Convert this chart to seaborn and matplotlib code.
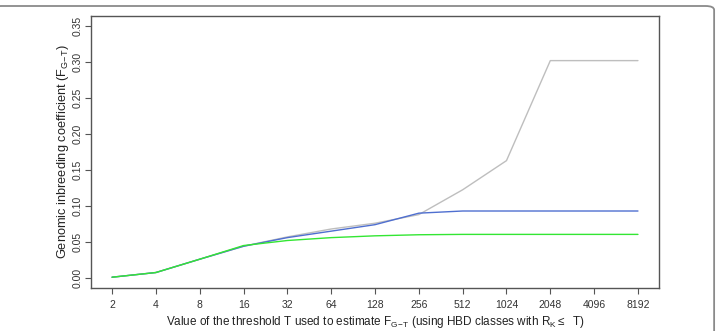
import numpy as np
import pandas as pd
import matplotlib
matplotlib.use("Agg")
import matplotlib.pyplot as plt
import seaborn as sns
from matplotlib.patches import FancyBboxPatch

thresholds = [2, 4, 8, 16, 32, 64, 128, 256, 512, 1024, 2048, 4096, 8192]
tick_labels = [str(t) for t in thresholds]
gray_series = [0.001, 0.0075, 0.026, 0.044, 0.057, 0.068, 0.076, 0.088, 0.1225, 0.163, 0.302, 0.302, 0.302]
blue_series = [0.001, 0.0075, 0.026, 0.044, 0.056, 0.065, 0.074, 0.090, 0.093, 0.093, 0.093, 0.093, 0.093]
green_series = [0.001, 0.0075, 0.026, 0.045, 0.052, 0.056, 0.0585, 0.060, 0.0605, 0.0605, 0.0605, 0.0605, 0.0605]
series_names = ["all", "blue", "green"]
colors = ["#BEBEBE", "#4F6FD0", "#33E633"]

sns.set_style("white")
plt.rcParams['font.family'] = ['Liberation Sans', 'DejaVu Sans']
plt.rcParams['mathtext.fontset'] = 'custom'
plt.rcParams['mathtext.rm'] = 'Liberation Sans'
plt.rcParams['mathtext.it'] = 'Liberation Sans:italic'

rows = []
for name, vals in zip(series_names, [gray_series, blue_series, green_series]):
    for t, v in zip(thresholds, vals):
        rows.append({"T": t, "F": v, "series": name})
df = pd.DataFrame(rows)

fig = plt.figure(figsize=(7.2, 3.31), dpi=100)
ax = fig.add_axes([91/720, 43/331, (659-91)/720, (288-16)/331])

sns.lineplot(data=df, x="T", y="F", hue="series", palette=dict(zip(series_names, colors)),
             linewidth=1.0, legend=False, ax=ax, sort=False)
ax.set_xscale('log', base=2)
lo, hi = np.log2(thresholds[0]), np.log2(thresholds[-1])
pad = (hi - lo) * 0.04
ax.set_xlim(2**(lo - pad), 2**(hi + pad))
ax.set_ylim(-0.014, 0.364)
ax.set_xticks(thresholds)
ax.set_xticklabels(tick_labels)
ax.minorticks_off()
yt = np.arange(0, 0.351, 0.05)
ax.set_yticks(yt)
ax.set_yticklabels([f"{v:.2f}" for v in yt], rotation=90, va='center')

for s in ax.spines.values():
    s.set_color('#555555')
    s.set_linewidth(1.0)
ax.tick_params(axis='x', which='major', length=4, width=0.8, color='#555555',
               labelsize=7.5, labelcolor='#333333', bottom=True, pad=5)
ax.tick_params(axis='y', which='major', length=4, width=0.8, color='#555555',
               labelsize=7.5, labelcolor='#333333', left=True, pad=2)

ax.set_xlabel(r'Value of the threshold T used to estimate F$_{\mathrm{G\!-\!T}}$ (using HBD classes with R$_{\mathrm{K}}\leq$  T)',
              fontsize=8.5, color='#222222', labelpad=2.5)
ax.set_ylabel(r'Genomic inbreeding coefficient (F$_{\mathrm{G\!-\!T}}$)', fontsize=9.2, color='#222222', labelpad=1.5)

border = FancyBboxPatch((-0.01, -0.2), 0.006 + 717/720, 1.2 - 6/331 + 0.0, transform=fig.transFigure,
                        boxstyle="round,pad=0,rounding_size=0.012", fill=False,
                        edgecolor='#8A8A8A', linewidth=1.3, clip_on=False)
fig.patches.append(border)

fig.savefig("out.png", dpi=100)
